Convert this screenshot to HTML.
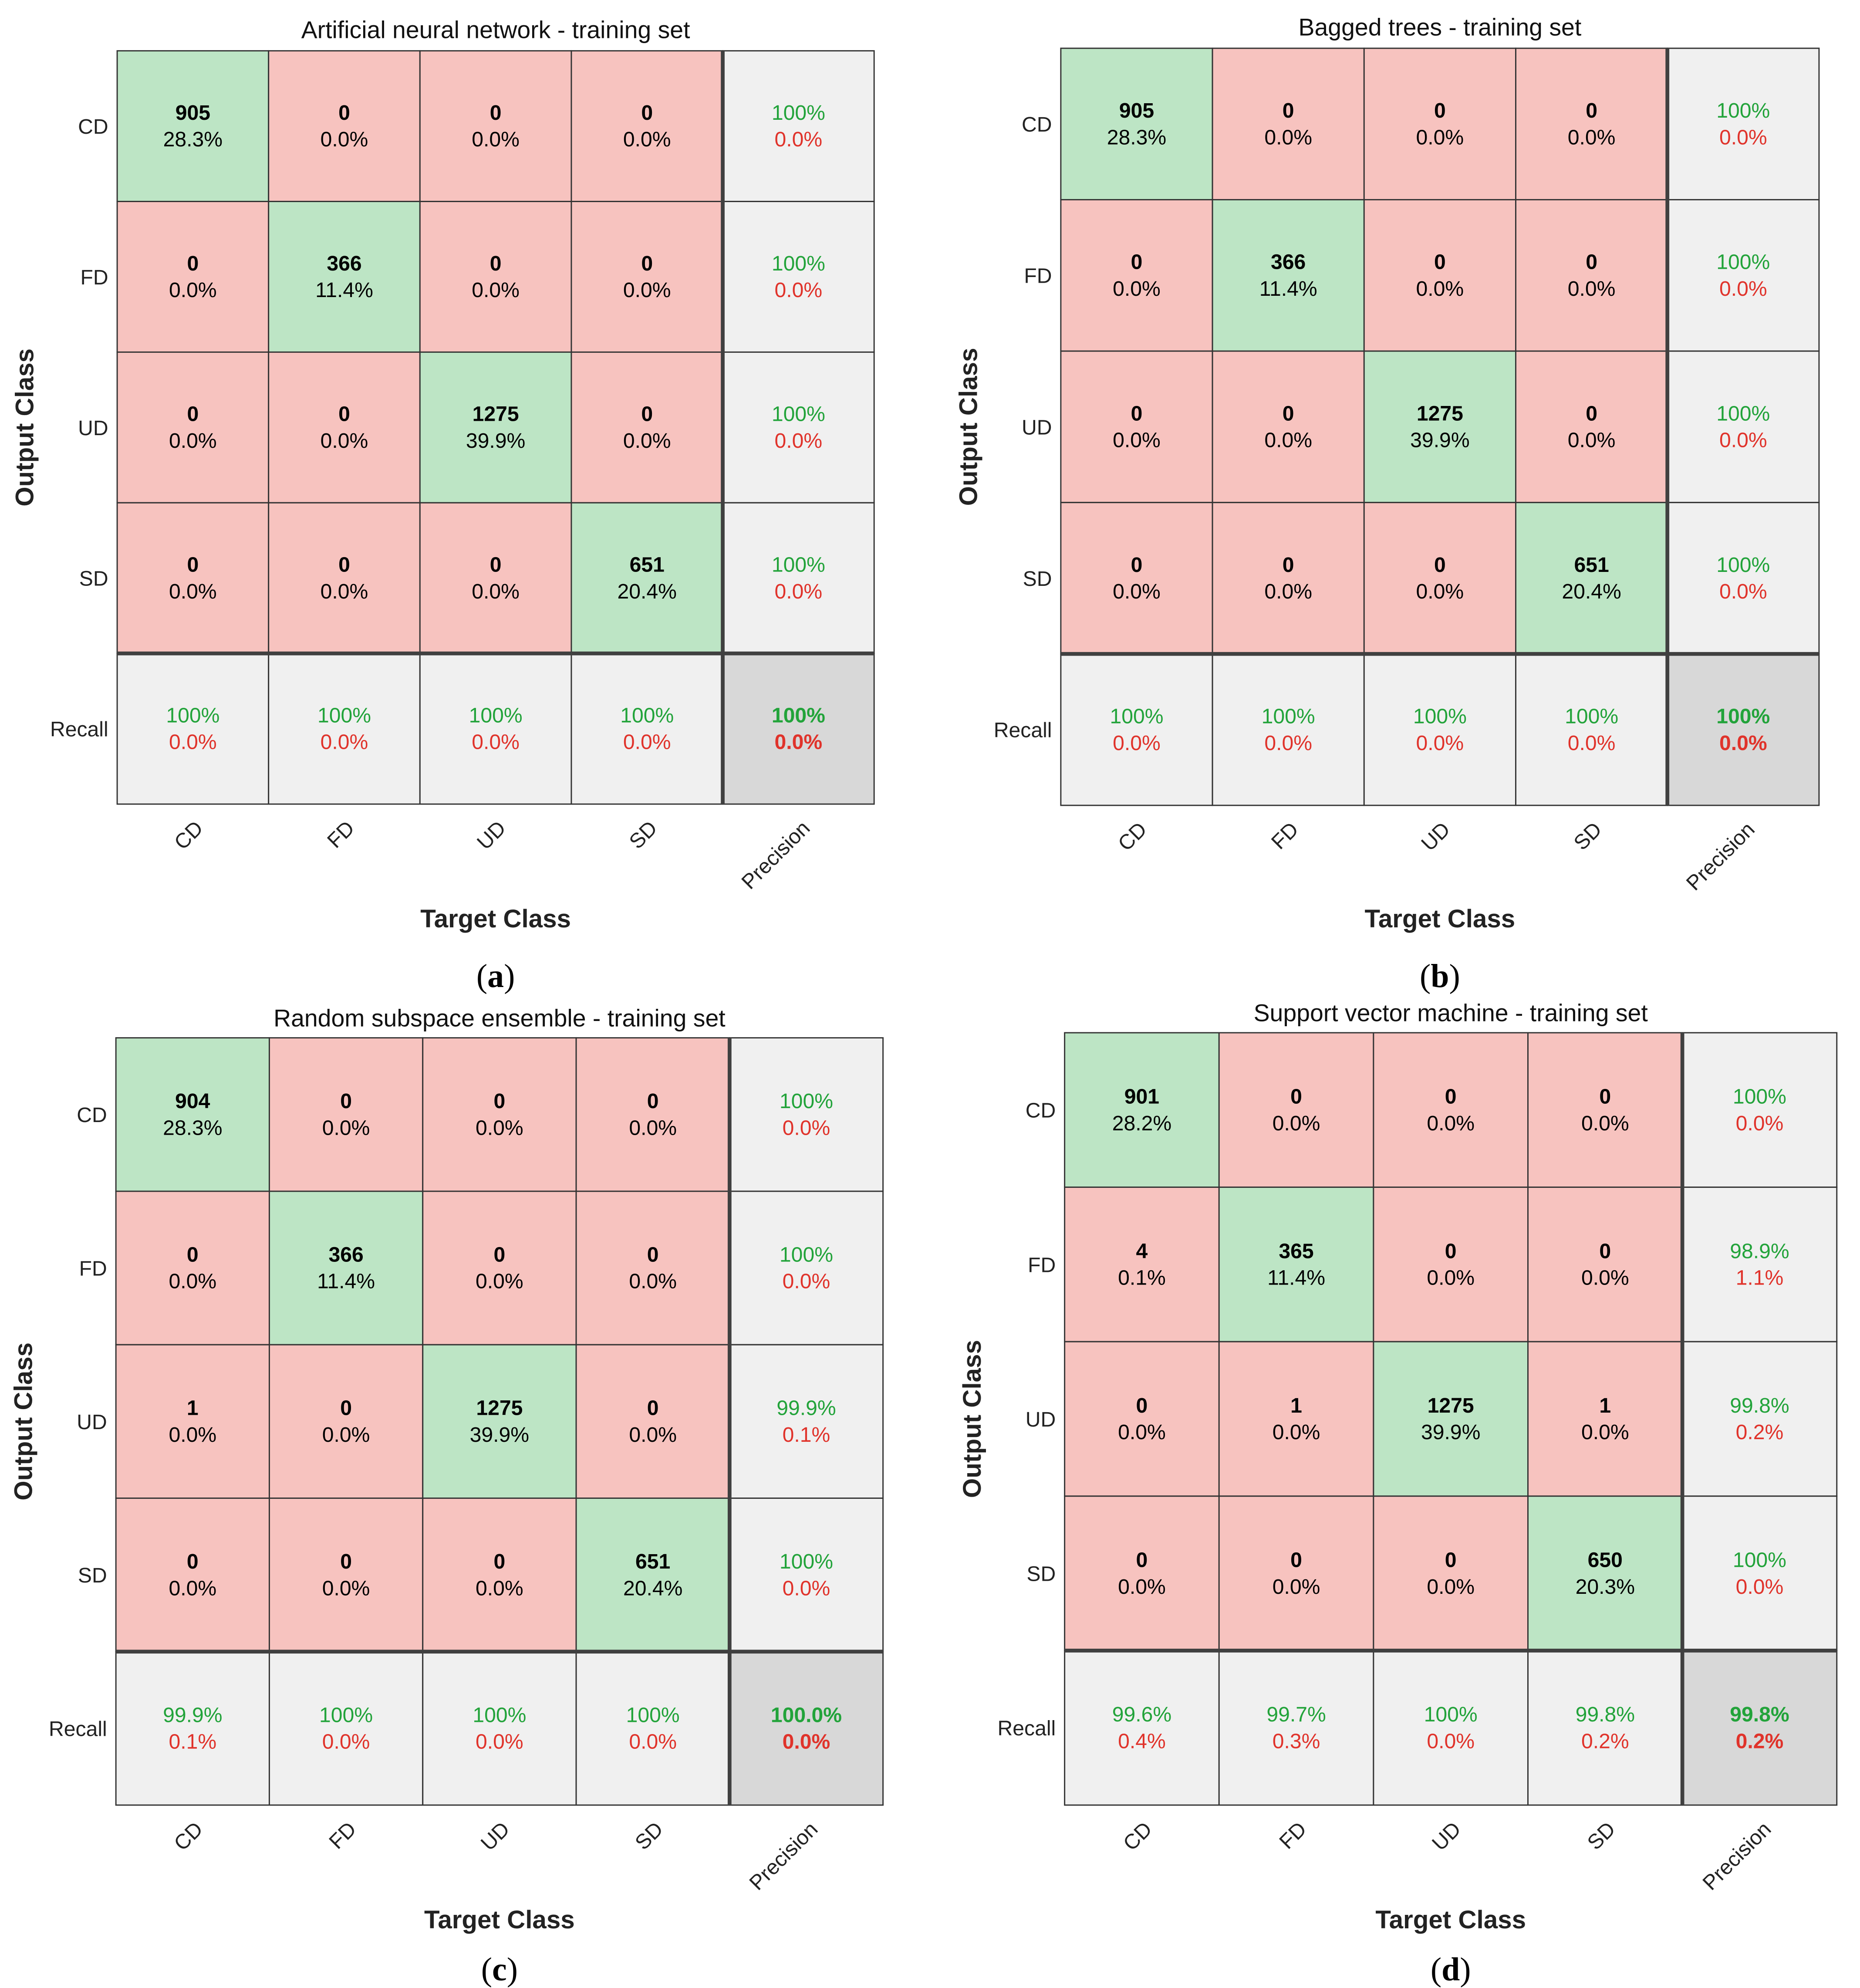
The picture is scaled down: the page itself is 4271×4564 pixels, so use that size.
<!DOCTYPE html>
<html><head><meta charset="utf-8">
<style>
html,body{margin:0;padding:0;background:#fff;}
svg{display:block;}
</style></head>
<body>
<svg id="fig" width="4271" height="4564" viewBox="0 0 1464 1565" xmlns="http://www.w3.org/2000/svg" font-family="Liberation Sans, sans-serif"></svg>
<script>
const classes = ["CD","FD","UD","SD"];
const titles = ["Artificial neural network - training set","Bagged trees - training set","Random subspace ensemble - training set","Support vector machine - training set"];
const panelLabels = ["(a)","(b)","(c)","(d)"];
// rows = output class, cols = target class
const matrixA = [[905,0,0,0],[0,366,0,0],[0,0,1275,0],[0,0,0,651]];
const matrixB = [[905,0,0,0],[0,366,0,0],[0,0,1275,0],[0,0,0,651]];
const matrixC = [[904,0,0,0],[0,366,0,0],[1,0,1275,0],[0,0,0,651]];
const matrixD = [[901,0,0,0],[4,365,0,0],[0,1,1275,1],[0,0,0,650]];
const matrices = [matrixA,matrixB,matrixC,matrixD];

const layouts = [
 {x0:92,x1:688,y0:40,y1:633,title:24,tc:723,lab:768},
 {x0:835,x1:1432,y0:38,y1:634,title:22,tc:723,lab:768},
 {x0:91,x1:695,y0:817,y1:1421,title:802,tc:1511,lab:1550},
 {x0:838,x1:1446,y0:813,y1:1421,title:798,tc:1511,lab:1550}
];
const NS="http://www.w3.org/2000/svg";
const svg=document.getElementById('fig');
function el(tag,attrs,parent,txt){const e=document.createElementNS(NS,tag);for(const k in attrs)e.setAttribute(k,attrs[k]);if(txt!==undefined)e.textContent=txt;(parent||svg).appendChild(e);return e;}
function pct(v){ if(Math.abs(v-100)<1e-9) return "100%"; return v.toFixed(1)+"%"; }
const GREEN="#bde5c5",RED="#f7c3bf",GRAY="#f0f0f0",DGRAY="#d8d8d8",GT="#22a33a",RT="#e0332b";
const FS=16.5;

matrices.forEach((m,p)=>{
  const L=layouts[p];
  const g=el('g',{});
  
  
  const n=5, cw=(L.x1-L.x0)/n, ch=(L.y1-L.y0)/n;
  let total=0,diag=0;
  m.forEach((r,i)=>r.forEach((v,j)=>{total+=v;if(i===j)diag+=v;}));
  const cx=j=>L.x0+cw*j, cy=i=>L.y0+ch*i;
  for(let i=0;i<4;i++)for(let j=0;j<4;j++){
    const v=m[i][j];
    const r=el('rect',{x:cx(j),y:cy(i),width:cw,height:ch,fill:i===j?GREEN:RED,stroke:"#333","stroke-width":1},g);
    
    
    const t1=el('text',{x:cx(j)+cw/2,y:cy(i)+ch/2-5,"text-anchor":"middle","font-size":FS,"font-weight":"bold",fill:"#000"},g,String(v));
    
    
    const t2=el('text',{x:cx(j)+cw/2,y:cy(i)+ch/2+16,"text-anchor":"middle","font-size":FS,fill:"#000"},g,(v/total*100).toFixed(1)+"%");
    
    
  }
  for(let i=0;i<4;i++){
    const rs=m[i].reduce((a,b)=>a+b,0);const pr=rs?m[i][i]/rs*100:0;
    const r=el('rect',{x:cx(4),y:cy(i),width:cw,height:ch,fill:GRAY,stroke:"#333","stroke-width":1},g);
    
    
    el('text',{x:cx(4)+cw/2,y:cy(i)+ch/2-5,"text-anchor":"middle","font-size":FS,fill:GT},g,pct(pr));
    el('text',{x:cx(4)+cw/2,y:cy(i)+ch/2+16,"text-anchor":"middle","font-size":FS,fill:RT},g,(100-pr).toFixed(1)+"%");
  }
  for(let j=0;j<4;j++){
    let cs=0;for(let i=0;i<4;i++)cs+=m[i][j];const rc=cs?m[j][j]/cs*100:0;
    const r=el('rect',{x:cx(j),y:cy(4),width:cw,height:ch,fill:GRAY,stroke:"#333","stroke-width":1},g);
    
    
    el('text',{x:cx(j)+cw/2,y:cy(4)+ch/2-5,"text-anchor":"middle","font-size":FS,fill:GT},g,pct(rc));
    el('text',{x:cx(j)+cw/2,y:cy(4)+ch/2+16,"text-anchor":"middle","font-size":FS,fill:RT},g,(100-rc).toFixed(1)+"%");
  }
  const acc=diag/total*100;
  const accTxt=Math.abs(acc-100)<1e-9?"100%":acc.toFixed(1)+"%";
  const r=el('rect',{x:cx(4),y:cy(4),width:cw,height:ch,fill:DGRAY,stroke:"#333","stroke-width":1},g);
  
  
  el('text',{x:cx(4)+cw/2,y:cy(4)+ch/2-5,"text-anchor":"middle","font-size":FS,"font-weight":"bold",fill:GT},g,accTxt);
  el('text',{x:cx(4)+cw/2,y:cy(4)+ch/2+16,"text-anchor":"middle","font-size":FS,"font-weight":"bold",fill:RT},g,(100-acc).toFixed(1)+"%");
  el('line',{x1:cx(4),y1:L.y0,x2:cx(4),y2:L.y1,stroke:"#404040","stroke-width":3},g);
  el('line',{x1:L.x0,y1:cy(4),x2:L.x1,y2:cy(4),stroke:"#404040","stroke-width":3},g);
  classes.concat(["Recall"]).forEach((c,i)=>{
    const t=el('text',{x:L.x0-7,y:cy(i)+ch/2+6,"text-anchor":"end","font-size":FS,fill:"#222"},g,c);
    
    
  });
  classes.concat(["Precision"]).forEach((c,j)=>{
    const x=cx(j)+cw/2+(j===4?10:9), y=L.y1+(j===4?20:20);
    const t=el('text',{x:x,y:y,"text-anchor":"end","font-size":FS,fill:"#222",transform:`rotate(-45 ${x} ${y})`},g,c);
    
    
  });
  const tt=el('text',{x:(L.x0+L.x1)/2,y:L.title+6,"text-anchor":"middle","font-size":19,fill:"#111"},g,titles[p]);
  
  
  const xt=el('text',{x:(L.x0+L.x1)/2,y:L.tc+7,"text-anchor":"middle","font-size":20,"font-weight":"bold",fill:"#222"},g,"Target Class");
  
  
  const yx=L.x0-66, yy=(L.y0+L.y1)/2;
  const yt=el('text',{x:yx,y:yy,"text-anchor":"middle","font-size":20,"font-weight":"bold",fill:"#222",transform:`rotate(-90 ${yx} ${yy})`},g,"Output Class");
  
  
  const pl=el('text',{x:(L.x0+L.x1)/2,y:L.lab+9,"text-anchor":"middle","font-size":26,"font-family":"Liberation Serif, serif",fill:"#000"},g);
  
  
  el('tspan',{},pl,"(");el('tspan',{"font-weight":"bold"},pl,"abcd"[p]);el('tspan',{},pl,")");
});
</script>
</body></html>
